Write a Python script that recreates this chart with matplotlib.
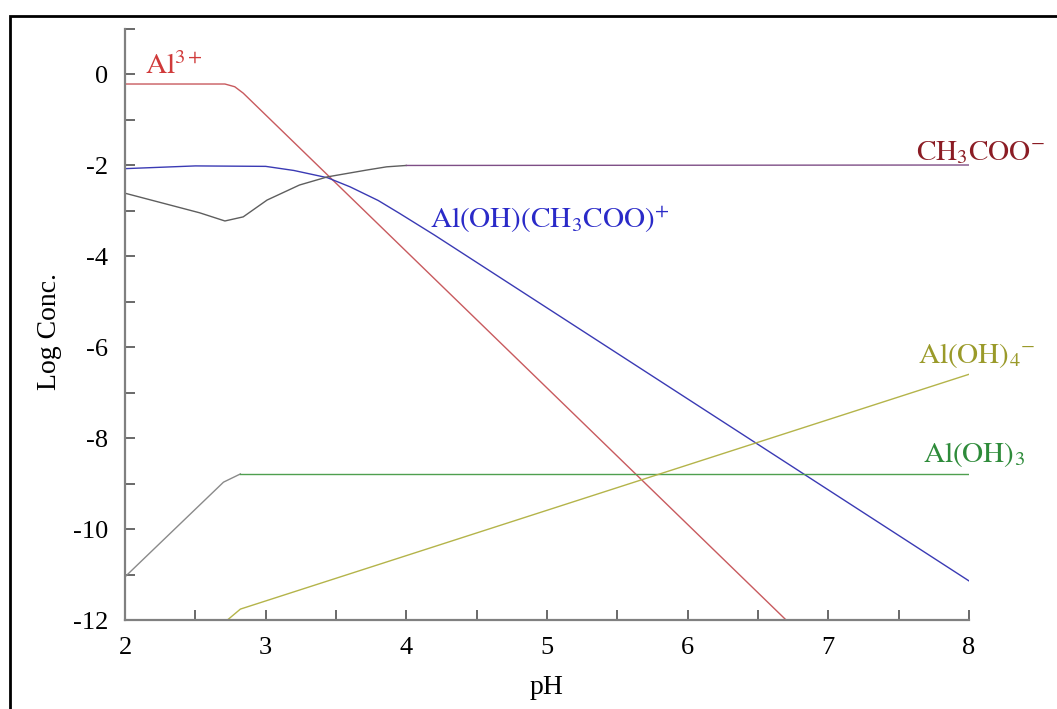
"""
Aluminium acetate speciation: Log Conc. vs pH
"""

import matplotlib
matplotlib.use("Agg")
import matplotlib.pyplot as plt
from matplotlib.patches import Rectangle
from matplotlib.ticker import MultipleLocator, FixedLocator

# (pH, log conc.)
al3_ph = [2.0, 2.5, 2.71, 2.78, 2.84, 3.01, 3.44, 4.0, 5.0, 6.0, 6.75]
al3_log = [-0.22, -0.22, -0.22, -0.28, -0.42, -0.93, -2.22, -3.9, -6.9, -9.9, -12.15]

alac_ph = [2.0, 2.5, 3.0, 3.2, 3.44, 3.6, 3.8, 3.95, 4.2, 5.0, 6.0, 7.0, 8.0]
alac_log = [-2.08, -2.02, -2.03, -2.12, -2.28, -2.48, -2.78, -3.06, -3.54, -5.14, -7.14, -9.14, -11.14]

# acetate: grey dip at low pH, then flat
ac_low_ph = [2.0, 2.53, 2.71, 2.84, 3.01, 3.24, 3.44, 3.72, 3.86, 4.0]
ac_low_log = [-2.62, -3.05, -3.23, -3.14, -2.77, -2.44, -2.26, -2.11, -2.04, -2.01]
ac_ph = [4.0, 8.0]
ac_log = [-2.01, -2.0]

# Al(OH)3: grey rise, then green flat
aloh3_low_ph = [2.0, 2.70, 2.82]
aloh3_low_log = [-11.05, -8.97, -8.79]
aloh3_ph = [2.82, 8.0]
aloh3_log = [-8.79, -8.79]

aloh4_ph = [2.72, 2.82, 8.0]
aloh4_log = [-12.02, -11.76, -6.6]

# species labels: text, x, y (baseline), colour
labels = [
    (r"$\mathrm{Al^{3+}}$", 2.14, 0.0, "#d03a3a"),
    (r"$\mathrm{CH_3COO^{-}}$", 7.62, -1.89, "#8b1c24"),
    (r"$\mathrm{Al(OH)(CH_3COO)^{+}}$", 4.17, -3.38, "#2a2ac8"),
    (r"$\mathrm{Al(OH)_4{}^{-}}$", 7.64, -6.35, "#9a9a2a"),
    (r"$\mathrm{Al(OH)_3}$", 7.67, -8.53, "#2e8b3a"),
]


def make_plot():
    plt.rcParams["font.family"] = "Liberation Serif"
    plt.rcParams["mathtext.fontset"] = "stix"
    plt.rcParams["axes.unicode_minus"] = False

    fig = plt.figure(figsize=(10.57, 7.09), dpi=100)
    # black frame round the chart (cut off on the right / bottom)
    fig.patches.append(Rectangle((0.0095, -0.2), 1.5, 1.178, transform=fig.transFigure,
                                 fill=False, edgecolor="black", linewidth=2.0))

    ax = fig.add_axes([0.1183, 0.1255, 0.7984, 0.8343])
    lw = 1.0
    ax.plot(al3_ph, al3_log, color="#c85a5e", lw=lw)
    ax.plot(alac_ph, alac_log, color="#3a3ab4", lw=lw)
    ax.plot(ac_low_ph, ac_low_log, color="#5e5e5e", lw=lw)
    ax.plot(ac_ph, ac_log, color="#7e4e86", lw=lw)
    ax.plot(aloh3_low_ph, aloh3_low_log, color="#8a8a8a", lw=lw)
    ax.plot(aloh3_ph, aloh3_log, color="#4f9f4f", lw=lw)
    ax.plot(aloh4_ph, aloh4_log, color="#b4b44a", lw=lw)

    for txt, x, y, c in labels:
        ax.text(x, y, txt, color=c, fontsize=21, ha="left", va="baseline", clip_on=False)

    ax.set_xlim(2, 8)
    ax.set_ylim(-12, 1)
    for s in ["top", "right"]:
        ax.spines[s].set_visible(False)
    for s in ["left", "bottom"]:
        ax.spines[s].set_color("#808080")
        ax.spines[s].set_linewidth(1.6)

    ax.xaxis.set_major_locator(MultipleLocator(1))
    ax.xaxis.set_minor_locator(MultipleLocator(0.5))
    ax.yaxis.set_major_locator(FixedLocator([-12, -10, -8, -6, -4, -2, 0]))
    ax.yaxis.set_minor_locator(FixedLocator([-11, -9, -7, -5, -3, -1, 1]))
    ax.set_yticklabels(["-12", "-10", "-8", "-6", "-4", "-2", "0"])
    ax.tick_params(which="both", direction="in", length=7, width=1.2, color="#505050")
    ax.tick_params(axis="x", which="major", labelsize=19, pad=12)
    ax.tick_params(axis="y", which="major", labelsize=19, pad=12)

    fig.text(0.047, 0.533, "Log Conc.", rotation=90, fontsize=20, ha="center", va="center")
    fig.text(0.5175, 0.03, "pH", fontsize=20, ha="center", va="center")
    return fig


def main():
    fig = make_plot()
    fig.savefig("out.png", dpi=100)


if __name__ == '__main__':
    main()
